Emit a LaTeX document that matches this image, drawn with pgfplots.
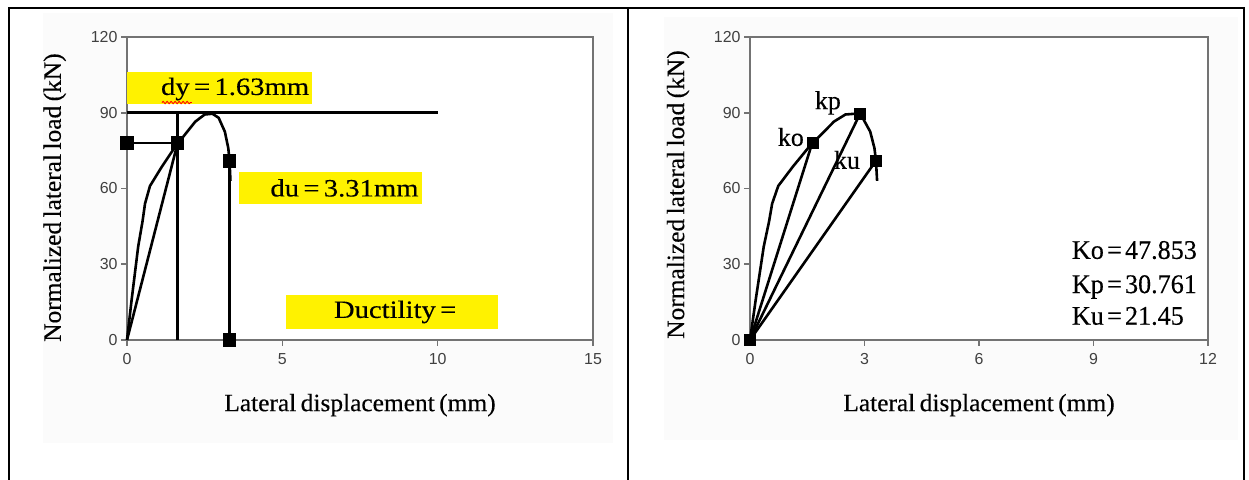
\documentclass[border=0pt]{standalone}
\usepackage{fontspec}
\setmainfont{Liberation Serif}
\newfontfamily\ticksf{Liberation Sans}
\newfontfamily\lblf{Liberation Serif}[FakeStretch=1.02, WordSpace=0.7, FakeBold=0.3]
\newfontfamily\boxf{Liberation Serif}[FakeStretch=1.15, WordSpace=0.6, FakeBold=0.3]
\newfontfamily\kf{Liberation Serif}[FakeStretch=0.97, WordSpace=0.5, FakeBold=0.3]
\newfontfamily\klf{Liberation Serif}[FakeBold=0.3]
\usepackage{pgfplots}
\pgfplotsset{compat=1.18}
\usetikzlibrary{decorations.pathmorphing}

\pgfplotstableread{
x y
0 0
0.15 16
0.36 37
0.5 47
0.58 54
0.74 61
1.12 68.6
1.63 78
1.81 80.5
2.2 86.5
2.5 89.3
2.75 89.6
2.95 88
3.15 82.5
3.26 76
3.3 71
3.33 63
}\curvedata

\newcommand{\lbl}{\lblf\fontsize{25}{28}\selectfont}
\newcommand{\bx}{\boxf\fontsize{25}{28}\selectfont}
\newcommand{\kk}{\kf\fontsize{27}{30}\selectfont}
\newcommand{\kl}{\klf\fontsize{26}{28}\selectfont}
\pgfplotsset{
  mystyle/.style={
    scale only axis, height=303bp,
    ymin=0, ymax=120, ytick={0,30,60,90,120},
    axis line style={draw=black!55, line width=2.4bp},
    tick style={draw=black!55, line width=1.6bp},
    tick align=outside, major tick length=6bp, tick pos=left,
    /pgf/number format/assume math mode=true,
    tick label style={font=\ticksf\fontsize{16}{16}\selectfont, text=black!75},
    xticklabel style={yshift=-4bp},
    axis background/.style={fill=white},
    clip=false,
    label style={font=\lbl},
    xlabel={Lateral displacement (mm)},
    ylabel={Normalized lateral load (kN)},
    xlabel style={at={(axis description cs:0.5,-0.215)}, anchor=center},
  },
  lw/.style={black, line width=2.6bp},
}

\begin{document}
\begin{tikzpicture}[x=1bp,y=1bp]
\useasboundingbox (0,0) rectangle (1249,480);
\fill[black!1.5] (43,37) rectangle (613,467);
\fill[black!1.5] (664,40) rectangle (1238,463);

% ---------- left chart ----------
\begin{axis}[mystyle, at={(127bp,140bp)}, anchor=south west, width=466bp,
  xmin=0, xmax=15, xtick={0,5,10,15},
  ylabel style={at={(axis description cs:-0.155,0.47)}, anchor=center}]
\addplot[lw] table[x=x,y=y] {\curvedata};
\addplot[lw] coordinates {(0,0) (1.63,78)};
\addplot[lw] coordinates {(0,90) (10,90)};
\addplot[lw] coordinates {(1.63,0) (1.63,90)};
\addplot[lw, mark=square*, mark size=5.5bp] coordinates {(0,78) (1.63,78)};
\addplot[lw, mark=square*, mark size=5.5bp] coordinates {(3.3,0) (3.3,71)};
\coordinate (dyA) at (axis cs:0,93.5);
\coordinate (dyB) at (axis cs:5.95,106.1);
\coordinate (dyT) at (axis cs:3.48,99.4);
\coordinate (duA) at (axis cs:3.6,53.9);
\coordinate (duB) at (axis cs:9.49,66.5);
\coordinate (duT) at (axis cs:7.0,60.2);
\coordinate (ddA) at (axis cs:5.12,4.4);
\coordinate (ddB) at (axis cs:11.94,17.8);
\coordinate (ddT) at (axis cs:8.63,11.1);
\end{axis}
\fill[yellow] (dyA) rectangle (dyB);
\fill[yellow] (duA) rectangle (duB);
\fill[yellow] (ddA) rectangle (ddB);
\node[font=\bx, inner sep=0pt] (dyN) at (dyT) {dy = 1.63mm};
\draw[red, line width=0.9bp, decorate, decoration={snake, amplitude=1.2bp, segment length=4bp}]
  ([xshift=1bp,yshift=-2bp]dyN.south west) -- ++(30,0);
\node[font=\bx, inner sep=0pt] at (duT) {du = 3.31mm};
\node[font=\bx, inner sep=0pt] at (ddT) {Ductility =};

% ---------- right chart ----------
\begin{axis}[mystyle, at={(750bp,140bp)}, anchor=south west, width=458bp,
  xmin=0, xmax=12, xtick={0,3,6,9,12},
  ylabel style={at={(axis description cs:-0.157,0.48)}, anchor=center}]
\addplot[lw] table[x=x,y=y] {\curvedata};
\addplot[lw] coordinates {(0,0) (1.63,78)};
\addplot[lw] coordinates {(0,0) (2.88,89.5)};
\addplot[lw] coordinates {(0,0) (3.3,71)};
\addplot[black, only marks, mark=square*, mark size=5.5bp] coordinates {(0,0) (1.63,78) (2.88,89.5) (3.3,71)};
\node[font=\kl, inner sep=0pt] at (axis cs:1.07,80.4) {ko};
\node[font=\kl, inner sep=0pt] at (axis cs:2.04,93.9) {kp};
\node[font=\kl, inner sep=0pt] at (axis cs:2.54,71.3) {ku};
\node[font=\kk, inner sep=0pt, anchor=west] at (axis cs:8.43,35.6) {Ko = 47.853};
\node[font=\kk, inner sep=0pt, anchor=west] at (axis cs:8.43,21) {Kp = 30.761};
\node[font=\kk, inner sep=0pt, anchor=west] at (axis cs:8.43,9.5) {Ku = 21.45};
\end{axis}

% ---------- outer table frame ----------
\draw[line width=1.6bp] (9,0) -- (9,472) -- (1244,472) -- (1244,0);
\draw[line width=1.6bp] (628,0) -- (628,472);
\end{tikzpicture}
\end{document}
